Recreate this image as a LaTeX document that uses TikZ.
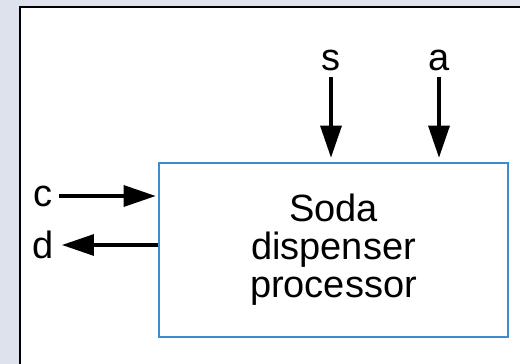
\documentclass[tikz,border=0pt]{standalone}
\usepackage{fontspec}
\setmainfont{Liberation Sans}
\usetikzlibrary{arrows.meta}
\definecolor{BoxBlue}{HTML}{3C8DCF}
\definecolor{Backdrop}{HTML}{DDE2EC}

\begin{document}
\begin{tikzpicture}[x=0.5pt,y=-0.5pt,
    font=\fontsize{19}{19}\selectfont,
    signal/.style={line width=1.6pt,-{Triangle[length=16pt,width=10.5pt]}},
    procbox/.style={draw=BoxBlue,line width=1.3pt,minimum width=174.5pt,
      minimum height=87pt,align=center}]
    \fill[Backdrop] (0,0) rectangle (520,364);
    \useasboundingbox (0,0) rectangle (520,364);
    \fill[white] (20,7) rectangle (530,372);
    \draw[line width=1.2pt] (20,372) -- (20,7) -- (530,7);

    \node[procbox] (disp) at (333.5,250) {Soda\\dispenser\\processor};

    % inputs from above
    \foreach \x/\name in {331/s,439/a} {
     \node[inner sep=3pt] (\name) at (\x,60) {\name};
     \draw[signal,shorten >=2pt] (\name) -- (\name |- disp.north);
    }

    % side signals
    \node[inner sep=3pt] (c) at (43,196) {c};
    \node[inner sep=3pt] (d) at (43,245) {d};
    \draw[signal,shorten >=1pt] (c) -- (c -| disp.west);
    \draw[signal,shorten >=1pt] (d -| disp.west) -- (d);
\end{tikzpicture}
\end{document}
